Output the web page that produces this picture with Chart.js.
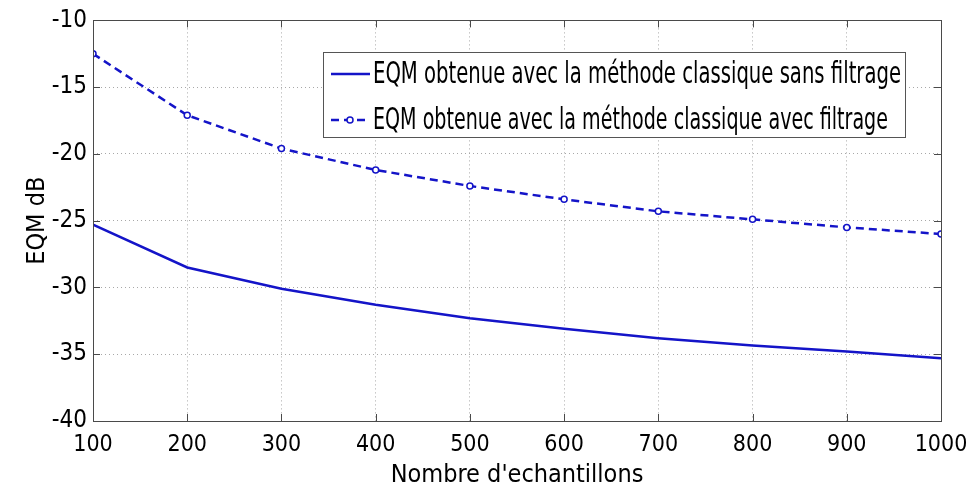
<!DOCTYPE html>
<html>
<head>
<meta charset="utf-8">
<script src="https://cdn.jsdelivr.net/npm/chart.js@4"></script>
<style>
  html, body { margin: 0; padding: 0; background: #fff; }
  #wrap { width: 966px; height: 492px; }
</style>
</head>
<body>
<div id="wrap"><canvas id="chart" width="966" height="492"></canvas></div>
<script>
// data
const samples = [100, 200, 300, 400, 500, 600, 700, 800, 900, 1000];
const eqmSansFiltrage = [-25.3, -28.5, -30.1, -31.3, -32.3, -33.1, -33.8, -34.35, -34.8, -35.3];
const eqmAvecFiltrage = [-12.5, -17.1, -19.6, -21.2, -22.4, -23.4, -24.3, -24.9, -25.5, -26.0];
const labelSans = 'EQM obtenue avec la méthode classique sans filtrage';
const labelAvec = 'EQM obtenue avec la méthode classique avec filtrage';

const FONT = "'Liberation Sans Narrow', 'DejaVu Sans Condensed', sans-serif";
const BLUE = '#1414c8';

const toPoints = (ys) => samples.map((x, i) => ({ x: x, y: ys[i] }));

// matlab style box with inward ticks
const boxPlugin = {
    id: 'box',
    afterDatasetsDraw(chart) {
        const ctx = chart.ctx;
        const a = chart.chartArea;
        const xs = chart.scales.x, ys = chart.scales.y;
        ctx.save();
        ctx.strokeStyle = '#4a4a4a';
        ctx.lineWidth = 1;
        ctx.beginPath();
        xs.ticks.forEach(t => {
            const px = Math.round(xs.getPixelForValue(t.value)) + 0.5;
            ctx.moveTo(px, a.bottom); ctx.lineTo(px, a.bottom - 7);
            ctx.moveTo(px, a.top); ctx.lineTo(px, a.top + 7);
        });
        ys.ticks.forEach(t => {
            const py = Math.round(ys.getPixelForValue(t.value)) + 0.5;
            ctx.moveTo(a.left, py); ctx.lineTo(a.left + 7, py);
            ctx.moveTo(a.right, py); ctx.lineTo(a.right - 7, py);
        });
        ctx.stroke();
        ctx.strokeRect(Math.round(a.left) + 0.5, Math.round(a.top) + 0.5,
            Math.round(a.right - a.left), Math.round(a.bottom - a.top));
        ctx.restore();
    }
};

// legend box inside the plot, top right
const legendPlugin = {
    id: 'boxLegend',
    afterDraw(chart) {
        const ctx = chart.ctx;
        const x0 = 323, y0 = 52, w = 582, h = 85;
        ctx.save();
        ctx.fillStyle = '#fff';
        ctx.fillRect(x0, y0, w, h);
        ctx.strokeStyle = '#555';
        ctx.lineWidth = 1;
        ctx.strokeRect(x0 + 0.5, y0 + 0.5, w, h);
        const rows = [74, 120];
        chart.data.datasets.forEach((ds, i) => {
            const y = rows[i];
            ctx.strokeStyle = ds.borderColor;
            ctx.lineWidth = ds.borderWidth;
            ctx.setLineDash(ds.borderDash || []);
            ctx.beginPath();
            ctx.moveTo(331, y); ctx.lineTo(370, y);
            ctx.stroke();
            ctx.setLineDash([]);
            if (ds.pointRadius > 0) {
                ctx.fillStyle = '#fff';
                ctx.lineWidth = 1.5;
                ctx.beginPath();
                ctx.arc(350, y, ds.pointRadius, 0, Math.PI * 2);
                ctx.fill(); ctx.stroke();
            }
            ctx.fillStyle = '#000';
            ctx.font = '31px ' + FONT;
            ctx.textBaseline = 'middle';
            const tw = ctx.measureText(ds.label).width;
            const target = i === 0 ? 528 : 515;
            ctx.save();
            ctx.translate(373, y);
            ctx.scale(target / tw, 1);
            ctx.fillText(ds.label, 0, 1);
            ctx.restore();
        });
        ctx.restore();
    }
};

new Chart(document.getElementById('chart'), {
    type: 'line',
    data: {
        datasets: [{
            label: labelSans,
            data: toPoints(eqmSansFiltrage),
            borderColor: BLUE,
            borderWidth: 2.5,
            pointRadius: 0,
            tension: 0
        }, {
            label: labelAvec,
            data: toPoints(eqmAvecFiltrage),
            borderColor: BLUE,
            borderWidth: 2.5,
            borderDash: [8, 5],
            pointRadius: 3,
            pointBorderWidth: 1.5,
            pointBackgroundColor: '#fff',
            pointBorderColor: BLUE,
            tension: 0
        }]
    },
    options: {
        responsive: false,
        animation: false,
        layout: { padding: { left: 0, top: 20, right: 25, bottom: 0 } },
        plugins: { legend: { display: false }, tooltip: { enabled: false } },
        scales: {
            x: {
                type: 'linear',
                min: 100, max: 1000,
                afterFit: s => { s.height = 71; s.paddingLeft = 0; s.paddingRight = 0; },
                ticks: { stepSize: 100, color: '#000', padding: 10, font: { family: FONT, size: 23 },
                         callback: v => String(v) },
                grid: { color: '#a8a8a8', drawTicks: false, lineWidth: 1 },
                border: { display: false, dash: [1, 3] },
                title: { display: true, text: "Nombre d'echantillons", color: '#000', padding: { top: 0, bottom: 2 }, font: { family: FONT, size: 25 } }
            },
            y: {
                min: -40, max: -10,
                afterFit: s => { s.width = 93; },
                ticks: { stepSize: 5, color: '#000', padding: 6, font: { family: FONT, size: 24 },
                         callback: v => String(v) },
                grid: { color: '#a8a8a8', drawTicks: false, lineWidth: 1 },
                border: { display: false, dash: [1, 3] },
                title: { display: true, text: 'EQM dB', color: '#000', padding: { top: 22, bottom: 0 }, font: { family: FONT, size: 25 } }
            }
        }
    },
    plugins: [boxPlugin, legendPlugin]
});
</script>
</body>
</html>
